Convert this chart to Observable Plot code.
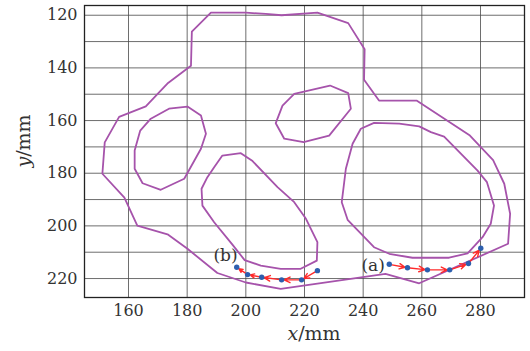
<!DOCTYPE html>
<html><head><meta charset="utf-8">
<script src="https://cdn.jsdelivr.net/npm/d3@7"></script>
<script src="https://cdn.jsdelivr.net/npm/@observablehq/plot@0.6"></script>
<style>body{margin:0;background:#fff} svg text{font-family:"DejaVu Serif",serif !important;}</style>
</head><body><div id="chart"></div>
<script>
// Contour loops (x/mm, y/mm)
const outerLoop = [[151.1,180.2],[151.9,168.3],[156.8,158.6],[165.9,154.6],[173.5,145.7],[181.3,139.2],[181.6,126.2],[188.1,119.0],[200.0,119.0],[206.8,119.5],[212.2,120.0],[224.4,119.0],[234.9,123.0],[240.5,132.9],[240.3,144.5],[245.4,152.4],[258.2,152.4],[276.4,165.7],[284.3,175.0],[288.1,184.0],[290.1,195.4],[289.4,206.8],[259.1,221.8],[247.6,218.2],[211.9,223.9],[200.0,221.5],[190.3,217.9],[180.1,208.7],[173.3,203.2],[163.0,199.9],[158.6,189.3]];
const leftLoop = [[173.8,155.5],[180.1,154.7],[184.7,158.1],[186.4,165.0],[184.7,170.7],[179.0,182.1],[171.0,186.3],[164.8,183.8],[162.1,178.3],[162.1,171.4],[164.0,163.8],[167.6,159.3]];
const midLoop = [[192.0,173.3],[198.3,172.4],[202.3,175.4],[210.8,185.3],[216.5,191.0],[220.5,197.3],[224.4,206.2],[224.2,213.2],[218.7,216.3],[211.9,216.3],[205.1,215.1],[199.6,213.0],[195.5,207.2],[189.2,198.6],[185.2,192.3],[184.9,185.9],[186.9,181.5],[189.2,177.7]];
const topLoop = [[216.5,149.9],[228.7,146.7],[234.9,149.6],[235.8,155.5],[228.4,165.7],[219.7,168.2],[213.1,166.9],[210.2,161.0],[212.5,154.3]];
const rightLoop = [[243.7,160.9],[252.3,161.2],[259.1,162.2],[263.1,164.4],[267.6,166.1],[279.0,179.0],[282.2,183.4],[284.6,192.3],[283.5,199.2],[280.7,204.3],[275.6,210.4],[269.3,212.1],[256.8,212.1],[248.9,210.6],[243.7,208.1],[234.7,197.7],[232.7,191.0],[234.1,178.3],[236.4,168.8],[239.2,163.1]];
// Trajectories (in travel order)
const pathA = [[248.9,214.6],[255.1,215.9],[261.9,216.7],[269.5,216.7],[275.9,214.3],[280.1,208.5]];
const pathB = [[224.4,217.0],[219.0,220.5],[212.2,220.5],[205.4,219.5],[200.6,218.5],[196.9,215.7]];
// Labels
const labelText = ["(a)","(b)"];
const labelX = [247.4,197.2];
const labelY = [215.2,211.3];
// Ticks
const xTicks = [160,180,200,220,240,260,280];
const yTicks = [120,140,160,180,200,220];
const yGrid = [120,130,140,150,160,170,180,190,200,210,220];

const loops = [["outer",outerLoop],["left",leftLoop],["mid",midLoop],["top",topLoop],["right",rightLoop]];
const loopRows = loops.flatMap(([name,pts]) => pts.map(([x,y]) => ({x,y,loop:name})));
const segs = [pathA, pathB].flatMap(p => p.slice(0,-1).map((q,i)=>({x1:q[0],y1:q[1],x2:p[i+1][0],y2:p[i+1][1]})));
const dots = [...pathA, ...pathB].map(([x,y])=>({x,y}));
const labels = labelText.map((t,i)=>({t,x:labelX[i],y:labelY[i]}));

const plot = Plot.plot({
  width:530, height:351,
  marginLeft:84, marginRight:6, marginTop:5, marginBottom:54,
  x:{domain:[145,295]},
  y:{domain:[116.3,227.2], reverse:true},
  style:{fontFamily:"DejaVu Serif", fontSize:"16px", color:"#222", background:"#fff"},
  marks:[
    Plot.gridY(yGrid,{stroke:"#4a4a4a", strokeOpacity:0.8, strokeWidth:1}),
    Plot.gridX(xTicks,{stroke:"#4a4a4a", strokeOpacity:0.8, strokeWidth:1}),
    Plot.line(loopRows,{x:"x",y:"y",z:"loop",curve:"linear-closed",stroke:"#a653ab",strokeWidth:1.8}),
    Plot.arrow(segs,{x1:"x1",y1:"y1",x2:"x2",y2:"y2",stroke:"#ff2a2a",strokeWidth:1.4,headLength:7,headAngle:50,insetEnd:2.5}),
    Plot.dot(dots,{x:"x",y:"y",r:2.7,fill:"#2d5fae"}),
    Plot.text(labels,{x:"x",y:"y",text:"t",textAnchor:"end",fontSize:17,fill:"#333"}),
    Plot.frame({stroke:"#222",strokeWidth:1.3}),
    Plot.axisX(xTicks,{tickSize:0,tickPadding:7,label:null,fill:"#333",fontSize:16}),
    Plot.axisY(yTicks,{tickSize:0,tickPadding:7,label:null,fill:"#333",fontSize:16})
  ]
});
document.getElementById("chart").appendChild(plot);
const svg = d3.select(plot);
const xl = svg.append("text").attr("x",314).attr("y",340).attr("text-anchor","middle")
  .attr("font-size",19).attr("fill","#333");
xl.append("tspan").attr("font-style","italic").text("x");
xl.append("tspan").text("/mm");
const yl = svg.append("text").attr("transform","translate(30,141) rotate(-90)").attr("text-anchor","middle")
  .attr("font-size",19).attr("fill","#333");
yl.append("tspan").attr("font-style","italic").text("y");
yl.append("tspan").text("/mm");
</script>
</body></html>
